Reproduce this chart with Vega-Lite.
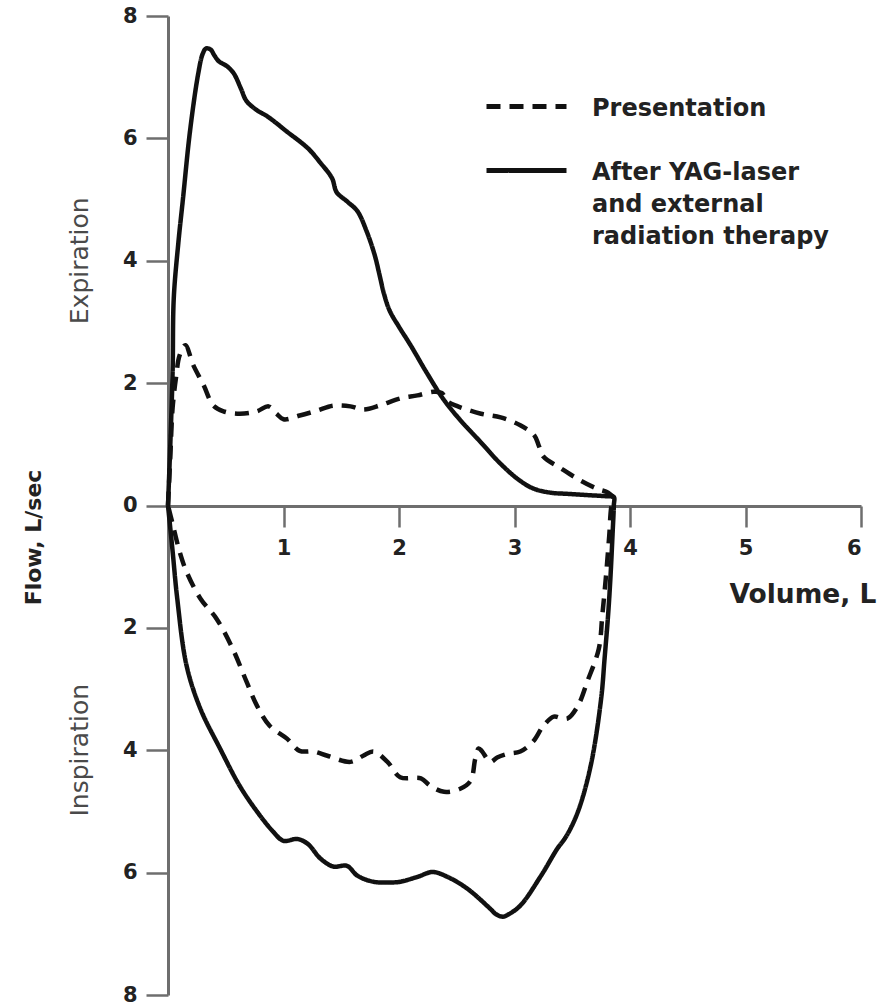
{
  "$schema": "https://vega.github.io/schema/vega-lite/v6.json",
  "autosize": {"type": "none"},
  "width": 693,
  "height": 979,
  "padding": {"left": 168, "top": 16, "right": 30, "bottom": 11},
  "background": "white",
  "config": {"view": {"stroke": null}},
  "datasets": {
    "loops": [
      {"series": "After YAG-laser and external radiation therapy", "i": 0, "v": 0.00, "f": 0.00},
      {"series": "After YAG-laser and external radiation therapy", "i": 1, "v": 0.02, "f": 1.0},
      {"series": "After YAG-laser and external radiation therapy", "i": 2, "v": 0.04, "f": 2.2},
      {"series": "After YAG-laser and external radiation therapy", "i": 3, "v": 0.05, "f": 3.39},
      {"series": "After YAG-laser and external radiation therapy", "i": 4, "v": 0.09, "f": 4.3},
      {"series": "After YAG-laser and external radiation therapy", "i": 5, "v": 0.13, "f": 5.02},
      {"series": "After YAG-laser and external radiation therapy", "i": 6, "v": 0.19, "f": 6.11},
      {"series": "After YAG-laser and external radiation therapy", "i": 7, "v": 0.26, "f": 7.04},
      {"series": "After YAG-laser and external radiation therapy", "i": 8, "v": 0.30, "f": 7.38},
      {"series": "After YAG-laser and external radiation therapy", "i": 9, "v": 0.33, "f": 7.47},
      {"series": "After YAG-laser and external radiation therapy", "i": 10, "v": 0.37, "f": 7.45},
      {"series": "After YAG-laser and external radiation therapy", "i": 11, "v": 0.40, "f": 7.36},
      {"series": "After YAG-laser and external radiation therapy", "i": 12, "v": 0.44, "f": 7.26},
      {"series": "After YAG-laser and external radiation therapy", "i": 13, "v": 0.51, "f": 7.18},
      {"series": "After YAG-laser and external radiation therapy", "i": 14, "v": 0.57, "f": 7.06},
      {"series": "After YAG-laser and external radiation therapy", "i": 15, "v": 0.63, "f": 6.82},
      {"series": "After YAG-laser and external radiation therapy", "i": 16, "v": 0.68, "f": 6.61},
      {"series": "After YAG-laser and external radiation therapy", "i": 17, "v": 0.77, "f": 6.46},
      {"series": "After YAG-laser and external radiation therapy", "i": 18, "v": 0.86, "f": 6.36},
      {"series": "After YAG-laser and external radiation therapy", "i": 19, "v": 1.03, "f": 6.11},
      {"series": "After YAG-laser and external radiation therapy", "i": 20, "v": 1.21, "f": 5.84},
      {"series": "After YAG-laser and external radiation therapy", "i": 21, "v": 1.32, "f": 5.60},
      {"series": "After YAG-laser and external radiation therapy", "i": 22, "v": 1.42, "f": 5.35},
      {"series": "After YAG-laser and external radiation therapy", "i": 23, "v": 1.46, "f": 5.12},
      {"series": "After YAG-laser and external radiation therapy", "i": 24, "v": 1.55, "f": 4.97},
      {"series": "After YAG-laser and external radiation therapy", "i": 25, "v": 1.64, "f": 4.81},
      {"series": "After YAG-laser and external radiation therapy", "i": 26, "v": 1.72, "f": 4.48},
      {"series": "After YAG-laser and external radiation therapy", "i": 27, "v": 1.79, "f": 4.09},
      {"series": "After YAG-laser and external radiation therapy", "i": 28, "v": 1.83, "f": 3.78},
      {"series": "After YAG-laser and external radiation therapy", "i": 29, "v": 1.87, "f": 3.46},
      {"series": "After YAG-laser and external radiation therapy", "i": 30, "v": 1.92, "f": 3.18},
      {"series": "After YAG-laser and external radiation therapy", "i": 31, "v": 2.00, "f": 2.92},
      {"series": "After YAG-laser and external radiation therapy", "i": 32, "v": 2.10, "f": 2.62},
      {"series": "After YAG-laser and external radiation therapy", "i": 33, "v": 2.24, "f": 2.17},
      {"series": "After YAG-laser and external radiation therapy", "i": 34, "v": 2.38, "f": 1.75},
      {"series": "After YAG-laser and external radiation therapy", "i": 35, "v": 2.51, "f": 1.44},
      {"series": "After YAG-laser and external radiation therapy", "i": 36, "v": 2.71, "f": 1.03},
      {"series": "After YAG-laser and external radiation therapy", "i": 37, "v": 2.87, "f": 0.70},
      {"series": "After YAG-laser and external radiation therapy", "i": 38, "v": 3.03, "f": 0.43},
      {"series": "After YAG-laser and external radiation therapy", "i": 39, "v": 3.16, "f": 0.28},
      {"series": "After YAG-laser and external radiation therapy", "i": 40, "v": 3.31, "f": 0.21},
      {"series": "After YAG-laser and external radiation therapy", "i": 41, "v": 3.46, "f": 0.19},
      {"series": "After YAG-laser and external radiation therapy", "i": 42, "v": 3.63, "f": 0.17},
      {"series": "After YAG-laser and external radiation therapy", "i": 43, "v": 3.81, "f": 0.15},
      {"series": "After YAG-laser and external radiation therapy", "i": 44, "v": 3.86, "f": 0.14},
      {"series": "After YAG-laser and external radiation therapy", "i": 45, "v": 3.86, "f": 0.0},
      {"series": "After YAG-laser and external radiation therapy", "i": 46, "v": 3.85, "f": -0.43},
      {"series": "After YAG-laser and external radiation therapy", "i": 47, "v": 3.83, "f": -1.2},
      {"series": "After YAG-laser and external radiation therapy", "i": 48, "v": 3.81, "f": -1.8},
      {"series": "After YAG-laser and external radiation therapy", "i": 49, "v": 3.78, "f": -2.5},
      {"series": "After YAG-laser and external radiation therapy", "i": 50, "v": 3.75, "f": -3.16},
      {"series": "After YAG-laser and external radiation therapy", "i": 51, "v": 3.66, "f": -4.25},
      {"series": "After YAG-laser and external radiation therapy", "i": 52, "v": 3.55, "f": -5.0},
      {"series": "After YAG-laser and external radiation therapy", "i": 53, "v": 3.45, "f": -5.4},
      {"series": "After YAG-laser and external radiation therapy", "i": 54, "v": 3.37, "f": -5.61},
      {"series": "After YAG-laser and external radiation therapy", "i": 55, "v": 3.23, "f": -6.05},
      {"series": "After YAG-laser and external radiation therapy", "i": 56, "v": 3.05, "f": -6.54},
      {"series": "After YAG-laser and external radiation therapy", "i": 57, "v": 2.95, "f": -6.68},
      {"series": "After YAG-laser and external radiation therapy", "i": 58, "v": 2.90, "f": -6.72},
      {"series": "After YAG-laser and external radiation therapy", "i": 59, "v": 2.84, "f": -6.68},
      {"series": "After YAG-laser and external radiation therapy", "i": 60, "v": 2.79, "f": -6.59},
      {"series": "After YAG-laser and external radiation therapy", "i": 61, "v": 2.59, "f": -6.26},
      {"series": "After YAG-laser and external radiation therapy", "i": 62, "v": 2.42, "f": -6.07},
      {"series": "After YAG-laser and external radiation therapy", "i": 63, "v": 2.29, "f": -5.99},
      {"series": "After YAG-laser and external radiation therapy", "i": 64, "v": 2.16, "f": -6.07},
      {"series": "After YAG-laser and external radiation therapy", "i": 65, "v": 2.01, "f": -6.15},
      {"series": "After YAG-laser and external radiation therapy", "i": 66, "v": 1.95, "f": -6.16},
      {"series": "After YAG-laser and external radiation therapy", "i": 67, "v": 1.78, "f": -6.15},
      {"series": "After YAG-laser and external radiation therapy", "i": 68, "v": 1.64, "f": -6.05},
      {"series": "After YAG-laser and external radiation therapy", "i": 69, "v": 1.55, "f": -5.89},
      {"series": "After YAG-laser and external radiation therapy", "i": 70, "v": 1.43, "f": -5.90},
      {"series": "After YAG-laser and external radiation therapy", "i": 71, "v": 1.32, "f": -5.77},
      {"series": "After YAG-laser and external radiation therapy", "i": 72, "v": 1.21, "f": -5.53},
      {"series": "After YAG-laser and external radiation therapy", "i": 73, "v": 1.12, "f": -5.45},
      {"series": "After YAG-laser and external radiation therapy", "i": 74, "v": 1.00, "f": -5.48},
      {"series": "After YAG-laser and external radiation therapy", "i": 75, "v": 0.91, "f": -5.33},
      {"series": "After YAG-laser and external radiation therapy", "i": 76, "v": 0.77, "f": -5.00},
      {"series": "After YAG-laser and external radiation therapy", "i": 77, "v": 0.62, "f": -4.58},
      {"series": "After YAG-laser and external radiation therapy", "i": 78, "v": 0.45, "f": -3.97},
      {"series": "After YAG-laser and external radiation therapy", "i": 79, "v": 0.28, "f": -3.32},
      {"series": "After YAG-laser and external radiation therapy", "i": 80, "v": 0.16, "f": -2.61},
      {"series": "After YAG-laser and external radiation therapy", "i": 81, "v": 0.08, "f": -1.52},
      {"series": "After YAG-laser and external radiation therapy", "i": 82, "v": 0.04, "f": -0.75},
      {"series": "After YAG-laser and external radiation therapy", "i": 83, "v": 0.00, "f": 0.00},
      {"series": "Presentation", "i": 0, "v": 0.00, "f": 0.00},
      {"series": "Presentation", "i": 1, "v": 0.02, "f": 0.8},
      {"series": "Presentation", "i": 2, "v": 0.04, "f": 1.6},
      {"series": "Presentation", "i": 3, "v": 0.07, "f": 2.1},
      {"series": "Presentation", "i": 4, "v": 0.10, "f": 2.45},
      {"series": "Presentation", "i": 5, "v": 0.15, "f": 2.62},
      {"series": "Presentation", "i": 6, "v": 0.22, "f": 2.29},
      {"series": "Presentation", "i": 7, "v": 0.31, "f": 1.96},
      {"series": "Presentation", "i": 8, "v": 0.39, "f": 1.64},
      {"series": "Presentation", "i": 9, "v": 0.48, "f": 1.54},
      {"series": "Presentation", "i": 10, "v": 0.62, "f": 1.50},
      {"series": "Presentation", "i": 11, "v": 0.77, "f": 1.54},
      {"series": "Presentation", "i": 12, "v": 0.87, "f": 1.62},
      {"series": "Presentation", "i": 13, "v": 0.94, "f": 1.50},
      {"series": "Presentation", "i": 14, "v": 1.00, "f": 1.41},
      {"series": "Presentation", "i": 15, "v": 1.14, "f": 1.47},
      {"series": "Presentation", "i": 16, "v": 1.29, "f": 1.55},
      {"series": "Presentation", "i": 17, "v": 1.43, "f": 1.63},
      {"series": "Presentation", "i": 18, "v": 1.58, "f": 1.62},
      {"series": "Presentation", "i": 19, "v": 1.69, "f": 1.57},
      {"series": "Presentation", "i": 20, "v": 1.84, "f": 1.64},
      {"series": "Presentation", "i": 21, "v": 2.01, "f": 1.75},
      {"series": "Presentation", "i": 22, "v": 2.16, "f": 1.80},
      {"series": "Presentation", "i": 23, "v": 2.30, "f": 1.86},
      {"series": "Presentation", "i": 24, "v": 2.37, "f": 1.84},
      {"series": "Presentation", "i": 25, "v": 2.42, "f": 1.70},
      {"series": "Presentation", "i": 26, "v": 2.51, "f": 1.62},
      {"series": "Presentation", "i": 27, "v": 2.71, "f": 1.50},
      {"series": "Presentation", "i": 28, "v": 2.88, "f": 1.44},
      {"series": "Presentation", "i": 29, "v": 3.05, "f": 1.31},
      {"series": "Presentation", "i": 30, "v": 3.17, "f": 1.15},
      {"series": "Presentation", "i": 31, "v": 3.21, "f": 0.98},
      {"series": "Presentation", "i": 32, "v": 3.25, "f": 0.80},
      {"series": "Presentation", "i": 33, "v": 3.40, "f": 0.61},
      {"series": "Presentation", "i": 34, "v": 3.57, "f": 0.41},
      {"series": "Presentation", "i": 35, "v": 3.72, "f": 0.27},
      {"series": "Presentation", "i": 36, "v": 3.81, "f": 0.21},
      {"series": "Presentation", "i": 37, "v": 3.86, "f": 0.11},
      {"series": "Presentation", "i": 38, "v": 3.84, "f": 0.0},
      {"series": "Presentation", "i": 39, "v": 3.82, "f": -0.5},
      {"series": "Presentation", "i": 40, "v": 3.79, "f": -1.2},
      {"series": "Presentation", "i": 41, "v": 3.76, "f": -1.8},
      {"series": "Presentation", "i": 42, "v": 3.73, "f": -2.34},
      {"series": "Presentation", "i": 43, "v": 3.63, "f": -2.88},
      {"series": "Presentation", "i": 44, "v": 3.55, "f": -3.27},
      {"series": "Presentation", "i": 45, "v": 3.46, "f": -3.48},
      {"series": "Presentation", "i": 46, "v": 3.40, "f": -3.47},
      {"series": "Presentation", "i": 47, "v": 3.34, "f": -3.45},
      {"series": "Presentation", "i": 48, "v": 3.25, "f": -3.60},
      {"series": "Presentation", "i": 49, "v": 3.16, "f": -3.86},
      {"series": "Presentation", "i": 50, "v": 3.05, "f": -4.02},
      {"series": "Presentation", "i": 51, "v": 2.94, "f": -4.06},
      {"series": "Presentation", "i": 52, "v": 2.85, "f": -4.12},
      {"series": "Presentation", "i": 53, "v": 2.79, "f": -4.19},
      {"series": "Presentation", "i": 54, "v": 2.72, "f": -4.02},
      {"series": "Presentation", "i": 55, "v": 2.69, "f": -3.97},
      {"series": "Presentation", "i": 56, "v": 2.66, "f": -4.14},
      {"series": "Presentation", "i": 57, "v": 2.62, "f": -4.50},
      {"series": "Presentation", "i": 58, "v": 2.53, "f": -4.63},
      {"series": "Presentation", "i": 59, "v": 2.39, "f": -4.68},
      {"series": "Presentation", "i": 60, "v": 2.27, "f": -4.58},
      {"series": "Presentation", "i": 61, "v": 2.19, "f": -4.46},
      {"series": "Presentation", "i": 62, "v": 2.01, "f": -4.44},
      {"series": "Presentation", "i": 63, "v": 1.90, "f": -4.19},
      {"series": "Presentation", "i": 64, "v": 1.78, "f": -4.02},
      {"series": "Presentation", "i": 65, "v": 1.69, "f": -4.09},
      {"series": "Presentation", "i": 66, "v": 1.58, "f": -4.19},
      {"series": "Presentation", "i": 67, "v": 1.38, "f": -4.09},
      {"series": "Presentation", "i": 68, "v": 1.26, "f": -4.02},
      {"series": "Presentation", "i": 69, "v": 1.14, "f": -4.01},
      {"series": "Presentation", "i": 70, "v": 1.03, "f": -3.81},
      {"series": "Presentation", "i": 71, "v": 0.88, "f": -3.60},
      {"series": "Presentation", "i": 72, "v": 0.77, "f": -3.27},
      {"series": "Presentation", "i": 73, "v": 0.68, "f": -2.88},
      {"series": "Presentation", "i": 74, "v": 0.56, "f": -2.34},
      {"series": "Presentation", "i": 75, "v": 0.42, "f": -1.85},
      {"series": "Presentation", "i": 76, "v": 0.28, "f": -1.52},
      {"series": "Presentation", "i": 77, "v": 0.16, "f": -1.08},
      {"series": "Presentation", "i": 78, "v": 0.10, "f": -0.75},
      {"series": "Presentation", "i": 79, "v": 0.04, "f": -0.3},
      {"series": "Presentation", "i": 80, "v": 0.00, "f": 0.00}
    ],
    "phases": [
      {"label": "Expiration", "f": 4},
      {"label": "Inspiration", "f": -4}
    ]
  },
  "layer": [
    {
      "data": {"name": "loops"},
      "mark": {"type": "line", "strokeWidth": 4.5, "color": "#111111", "interpolate": "catmull-rom", "strokeCap": "butt", "strokeJoin": "round"},
      "encoding": {
        "x": {
          "field": "v", "type": "quantitative",
          "scale": {"domain": [0, 6], "nice": false, "zero": false},
          "axis": {
            "orient": "bottom", "offset": -489,
            "values": [1, 2, 3, 4, 5, 6], "format": "d",
            "grid": false,
            "domainColor": "#6e6e6e", "domainWidth": 3,
            "tickColor": "#6e6e6e", "tickWidth": 2.5, "tickSize": 21,
            "labelPadding": 10, "labelFont": "DejaVu Sans", "labelFontWeight": "bold", "labelFontSize": 21, "labelColor": "#222222",
            "title": "Volume, L", "titleFont": "DejaVu Sans", "titleFontWeight": "bold", "titleFontSize": 26.5, "titleColor": "#222222",
            "titleX": 708, "titleY": 88, "titleAlign": "right", "titleBaseline": "middle"
          }
        },
        "y": {
          "field": "f", "type": "quantitative",
          "scale": {"domain": [-8, 8], "nice": false, "zero": false},
          "axis": {
            "orient": "left",
            "values": [-8, -6, -4, -2, 0, 2, 4, 6, 8],
            "labelExpr": "abs(datum.value)",
            "grid": false,
            "domainColor": "#6e6e6e", "domainWidth": 3,
            "tickColor": "#6e6e6e", "tickWidth": 2.5, "tickSize": 22,
            "labelPadding": 9, "labelFont": "DejaVu Sans", "labelFontWeight": "bold", "labelFontSize": 21, "labelColor": "#222222",
            "title": "Flow, L/sec", "titleFont": "DejaVu Sans", "titleFontWeight": "bold", "titleFontSize": 22, "titleColor": "#222222",
            "titleX": -135, "titleY": 521, "titleAngle": 270, "titleAlign": "center", "titleBaseline": "middle", "titleLimit": 300
          }
        },
        "order": {"field": "i", "type": "quantitative"},
        "strokeDash": {
          "field": "series", "type": "nominal",
          "scale": {"domain": ["Presentation", "After YAG-laser and external radiation therapy"], "range": [[14, 9], [1, 0]]},
          "legend": {
            "orient": "none", "legendX": 316, "legendY": 48, "title": null, "padding": 0,
            "symbolType": "stroke", "symbolSize": 6400, "symbolStrokeWidth": 5, "symbolStrokeColor": "#111111",
            "labelFont": "DejaVu Sans", "labelFontWeight": "bold", "labelFontSize": 24, "labelColor": "#222222",
            "labelOffset": 23, "labelLimit": 400, "labelBaseline": "top", "rowPadding": 7,
            "labelExpr": "datum.label == 'Presentation' ? 'Presentation' : ['After YAG-laser', 'and external', 'radiation therapy']",
            "encode": {"labels": {"update": {"dy": {"value": -10}, "lineHeight": {"value": 32}}}}
          }
        }
      }
    },
    {
      "data": {"name": "phases"},
      "mark": {"type": "text", "angle": 270, "font": "DejaVu Sans", "fontSize": 25, "color": "#4a4a4a", "align": "center", "baseline": "middle"},
      "encoding": {
        "x": {"datum": -0.76, "type": "quantitative"},
        "y": {"field": "f", "type": "quantitative"},
        "text": {"field": "label", "type": "nominal"}
      }
    }
  ]
}
